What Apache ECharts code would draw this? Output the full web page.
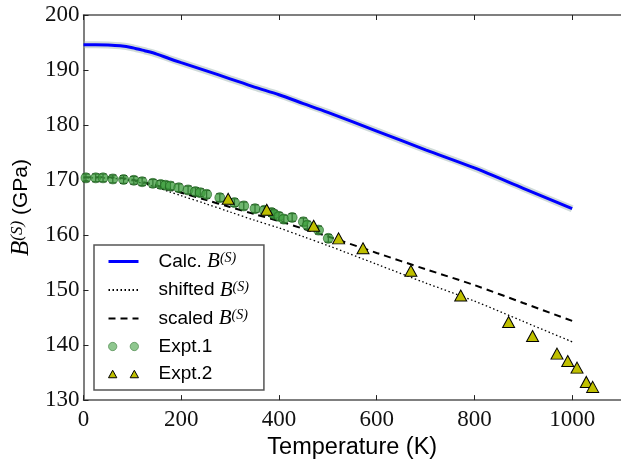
<!DOCTYPE html>
<html>
<head>
<meta charset="utf-8">
<script src="https://cdn.jsdelivr.net/npm/echarts@6/dist/echarts.min.js"></script>
<style>
html,body{margin:0;padding:0;background:#fff;}
#chart{width:621px;height:465px;}
</style>
</head>
<body>
<div id="chart"></div>
<script>
// ---- data ----
var calcT = [0, 25, 50, 75, 100, 125, 150, 175, 200, 250, 300, 350, 400, 450, 500, 600, 700, 800, 900, 1000];
var calcB = [194.6, 194.6, 194.55, 194.4, 194.05, 193.5, 192.9, 192.1, 191.35, 189.9, 188.4, 186.9, 185.5, 183.9, 182.3, 178.9, 175.5, 172.2, 168.5, 164.8];
var shiftedB = [170.4, 170.4, 170.35, 170.2, 169.85, 169.3, 168.7, 167.9, 167.15, 165.7, 164.2, 162.7, 161.3, 159.7, 158.1, 154.7, 151.3, 148.0, 144.3, 140.6];
var scaledB = [170.5, 170.5, 170.5, 170.35, 170.05, 169.55, 169.0, 168.3, 167.7, 166.4, 165.1, 163.8, 162.55, 161.15, 159.75, 156.75, 153.8, 150.9, 147.65, 144.4];

var expt1T = [5, 25, 40, 60, 82, 103, 120, 142, 158, 168, 178, 195, 214, 229, 239, 252, 279, 309, 328, 351, 370, 385, 390, 400, 410, 427, 450, 458, 481, 501];
var expt1B = [170.4, 170.4, 170.4, 170.2, 170.1, 169.95, 169.7, 169.4, 169.2, 169.05, 168.9, 168.6, 168.2, 167.9, 167.7, 167.4, 166.8, 165.9, 165.3, 164.8, 164.5, 164.1, 163.8, 163.4, 162.9, 163.2, 162.4, 161.8, 160.9, 159.4];
var expt1Err = [0.7, 0.7, 0.7, 0.7, 0.7, 0.7, 0.7, 0.7, 0.7, 0.7, 0.7, 0.7, 0.7, 0.7, 0.7, 0.7, 0.7, 0.7, 0.7, 0.7, 0.7, 0.7, 0.7, 0.7, 0.7, 0.7, 0.7, 0.7, 0.7, 0.7];

var expt2T = [296, 375, 471, 522, 572, 670, 772, 870, 919, 969, 991, 1010, 1029, 1042];
var expt2B = [166.6, 164.6, 161.7, 159.4, 157.6, 153.5, 149.0, 144.2, 141.65, 138.45, 137.1, 135.9, 133.3, 132.4];

var xTicks = [0, 200, 400, 600, 800, 1000];
var yTicks = [130, 140, 150, 160, 170, 180, 190, 200];

function pairs(xs, ys) { return xs.map(function (x, i) { return [x, ys[i]]; }); }
function triples(xs, ys, es) { return xs.map(function (x, i) { return [x, ys[i], es[i]]; }); }

var serifFont = 'Liberation Serif';
var sansFont = 'Liberation Sans';

var legendNames = {
  'Calc': '{t|Calc. }{b|B}{s|(S)}',
  'shifted': '{t|shifted }{b|B}{s|(S)}',
  'scaled': '{t|scaled }{b|B}{s|(S)}',
  'Expt.1': '{t|Expt.1}',
  'Expt.2': '{t|Expt.2}'
};

var chart = echarts.init(document.getElementById('chart'), null, {renderer: 'canvas'});
var axisLineStyle = {color: '#555', width: 1.5};
var hiddenSym = {opacity: 0};

var option = {
  animation: false,
  backgroundColor: '#fff',
  grid: {left: 83.5, top: 15, right: -7, bottom: 63.3, containLabel: false},
  xAxis: [{
    type: 'value', min: 0, max: 1100, interval: 200,
    position: 'bottom',
    axisLine: {show: true, onZero: false, lineStyle: axisLineStyle},
    axisTick: {show: true, inside: true, length: 5, lineStyle: {color: '#222', width: 1}},
    splitLine: {show: false},
    axisLabel: {
      show: true, margin: 8, color: '#111', fontFamily: serifFont, fontSize: 23,
      showMaxLabel: false,
      formatter: function (v) { return xTicks.indexOf(v) >= 0 ? String(v) : ''; }
    },
    name: 'Temperature (K)', nameLocation: 'middle', nameGap: 34,
    nameTextStyle: {fontFamily: sansFont, fontSize: 23.5, color: '#000'}
  }, {
    type: 'value', min: 0, max: 1100, interval: 200,
    position: 'top',
    axisLine: {show: true, onZero: false, lineStyle: axisLineStyle},
    axisTick: {show: true, inside: true, length: 5, lineStyle: {color: '#222', width: 1}},
    splitLine: {show: false},
    axisLabel: {show: false}
  }],
  yAxis: [{
    type: 'value', min: 130, max: 200, interval: 10,
    axisLine: {show: true, onZero: false, lineStyle: axisLineStyle},
    axisTick: {show: true, inside: true, length: 5, lineStyle: {color: '#222', width: 1}},
    splitLine: {show: false},
    axisLabel: {
      show: true, margin: 4, color: '#111', fontFamily: serifFont, fontSize: 23,
      formatter: function (v) { return yTicks.indexOf(v) >= 0 ? String(v) : ''; }
    },
    name: '{b|B}{s|(S)}{t| (GPa)}', nameLocation: 'middle', nameGap: 46,
    nameTextStyle: {
      color: '#000',
      rich: {
        b: {fontFamily: serifFont, fontStyle: 'italic', fontSize: 25, color: '#000'},
        s: {fontFamily: serifFont, fontStyle: 'italic', fontSize: 17, verticalAlign: 'top', color: '#000'},
        t: {fontFamily: sansFont, fontSize: 21, color: '#000'}
      }
    }
  }],
  legend: {
    orient: 'vertical', left: 94, top: 245,
    padding: [6, 15, 6, 13],
    backgroundColor: '#fff',
    borderColor: '#555', borderWidth: 1.5, borderRadius: 0,
    itemWidth: 30, itemHeight: 13, itemGap: 7.5,
    selectedMode: false,
    data: [
      {name: 'Calc', itemStyle: hiddenSym, lineStyle: {width: 3, color: '#0000ff'}},
      {name: 'shifted', itemStyle: hiddenSym},
      {name: 'scaled', itemStyle: hiddenSym},
      {name: 'Expt.1', icon: 'path://M0,5a5,5 0 1,0 10,0a5,5 0 1,0 -10,0Z M26,5a5,5 0 1,0 10,0a5,5 0 1,0 -10,0Z',
        itemStyle: {color: '#6ab46a', borderColor: '#3b7a3b', borderWidth: 0.8}},
      {name: 'Expt.2', icon: 'path://M5,0L10,9L0,9Z M31,0L36,9L26,9Z',
        itemStyle: {color: '#bfbf00', borderColor: '#000', borderWidth: 1}}
    ],
    formatter: function (n) { return legendNames[n]; },
    textStyle: {
      color: '#000', padding: [0, 0, 0, 15], lineHeight: 20,
      rich: {
        t: {fontFamily: sansFont, fontSize: 19, color: '#000', lineHeight: 20},
        b: {fontFamily: serifFont, fontStyle: 'italic', fontSize: 21, color: '#000', lineHeight: 20},
        s: {fontFamily: serifFont, fontStyle: 'italic', fontSize: 14, color: '#000', verticalAlign: 'top', lineHeight: 20}
      }
    }
  },
  series: [
    {
      name: 'band', type: 'line', data: pairs(calcT, calcB), smooth: 0.3,
      symbol: 'none', silent: true,
      lineStyle: {color: 'rgba(150,175,170,0.45)', width: 7},
      z: 1
    },
    {
      name: 'Calc', type: 'line', data: pairs(calcT, calcB), smooth: 0.3,
      symbol: 'none', color: '#0000ff',
      lineStyle: {color: '#0000ff', width: 3},
      z: 2
    },
    {
      name: 'shifted', type: 'line', data: pairs(calcT, shiftedB), smooth: 0.3,
      symbol: 'none', color: '#000',
      lineStyle: {color: '#000', width: 1.3, type: [1.5, 2.5]},
      z: 3
    },
    {
      name: 'scaled', type: 'line', data: pairs(calcT, scaledB), smooth: 0.3,
      symbol: 'none', color: '#000',
      lineStyle: {color: '#000', width: 2, type: [7, 5]},
      z: 3
    },
    {
      name: 'err1', type: 'custom', data: triples(expt1T, expt1B, expt1Err),
      silent: true, z: 4,
      renderItem: function (params, api) {
        var x = api.value(0), y = api.value(1), e = api.value(2);
        var top = api.coord([x, y + e]);
        var bot = api.coord([x, y - e]);
        var cw = 3.5;
        var st = {stroke: '#000', lineWidth: 1.2};
        return {
          type: 'group',
          children: [
            {type: 'line', shape: {x1: top[0], y1: top[1], x2: bot[0], y2: bot[1]}, style: st},
            {type: 'line', shape: {x1: top[0] - cw, y1: top[1], x2: top[0] + cw, y2: top[1]}, style: st},
            {type: 'line', shape: {x1: bot[0] - cw, y1: bot[1], x2: bot[0] + cw, y2: bot[1]}, style: st}
          ]
        };
      }
    },
    {
      name: 'Expt.1', type: 'scatter', data: pairs(expt1T, expt1B),
      symbol: 'circle', symbolSize: 10, z: 5,
      itemStyle: {color: '#3e9e3e', opacity: 0.75, borderColor: '#1f5f1f', borderWidth: 0.8}
    },
    {
      name: 'Expt.2', type: 'scatter', data: pairs(expt2T, expt2B),
      symbol: 'triangle', symbolSize: [12, 11], z: 6,
      itemStyle: {color: '#bfbf00', opacity: 1, borderColor: '#000', borderWidth: 1}
    }
  ]
};
chart.setOption(option);
</script>
</body>
</html>
